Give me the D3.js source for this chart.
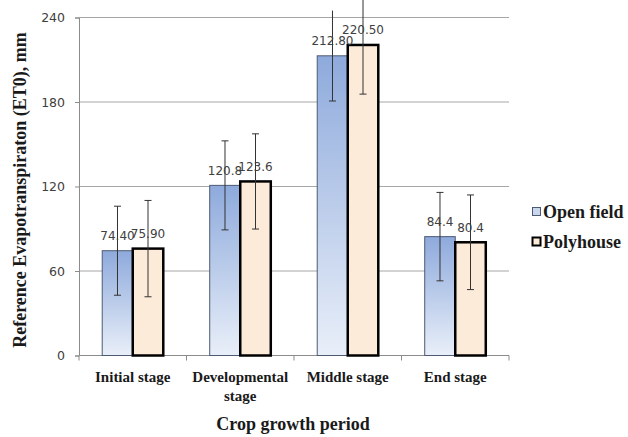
<!DOCTYPE html>
<html>
<head>
<meta charset="utf-8">
<script src="https://cdn.jsdelivr.net/npm/d3@7"></script>
<style>
  body { margin: 0; background: #fff; }
  svg { display: block; }
  .serif { font-family: "Liberation Serif", "DejaVu Serif", "Times New Roman", serif; font-weight: bold; }
</style>
</head>
<body>
<div id="graph"></div>
<script>
var stages = [['Initial stage'], ['Developmental', 'stage'], ['Middle stage'], ['End stage']]
var series = ['Open field', 'Polyhouse']
var openVals = [74.4, 120.8, 212.8, 84.4]
var polyVals = [75.9, 123.6, 220.5, 80.4]
var openLabels = ['74.40', '120.8', '212.80', '84.4']
var polyLabels = ['75.90', '123.6', '220.50', '80.4']
var openErr = [31.6, 31.6, 32.1, 31.4]
var polyErr = [34.2, 33.8, 34.9, 33.6]
var yTicks = [0, 60, 120, 180, 240]

var width = 628, height = 437
var margin = {left: 79, right: 119, top: 17.5, bottom: 81.5}

var svg = d3.select('#graph').append('svg')
  .attr('width', width).attr('height', height)

var defs = svg.append('defs')
var grad = defs.append('linearGradient').attr('id', 'openGrad')
  .attr('x1', 0).attr('y1', 0).attr('x2', 0).attr('y2', 1)
grad.append('stop').attr('offset', '0%').attr('stop-color', '#8eaadc')
grad.append('stop').attr('offset', '100%').attr('stop-color', '#e9eff9')

var x0 = d3.scaleBand()
  .domain(d3.range(stages.length))
  .range([margin.left, width - margin.right])

var x1 = d3.scaleBand()
  .domain(series)
  .range([x0.bandwidth()*0.216, x0.bandwidth()*0.784])

var y = d3.scaleLinear().domain([0, 240]).range([height - margin.bottom, margin.top])

// gridlines
svg.append('g').selectAll('line').data(yTicks.slice(1)).join('line')
  .attr('x1', margin.left).attr('x2', width - margin.right)
  .attr('y1', d => y(d)).attr('y2', d => y(d))
  .attr('stroke', '#a6a6a6').attr('stroke-width', 1)

// y axis
var yAxis = svg.append('g')
  .attr('transform', `translate(${margin.left},0)`)
  .call(d3.axisLeft(y).tickValues(yTicks).tickSize(4).tickPadding(10))
yAxis.select('.domain').attr('stroke', '#8c8c8c')
yAxis.selectAll('.tick line').attr('stroke', '#8c8c8c')
yAxis.selectAll('text')
  .attr('font-family', 'DejaVu Sans').attr('font-size', 12.5).attr('fill', '#404040')

// x axis
var xAxisG = svg.append('g').attr('transform', `translate(0,${y(0)})`)
xAxisG.append('line')
  .attr('x1', margin.left).attr('x2', width - margin.right)
  .attr('stroke', '#8c8c8c')
xAxisG.selectAll('.tk').data(d3.range(stages.length + 1)).join('line')
  .attr('class', 'tk')
  .attr('x1', d => margin.left + d*x0.step()).attr('x2', d => margin.left + d*x0.step())
  .attr('y1', 0).attr('y2', 5)
  .attr('stroke', '#8c8c8c')

xAxisG.selectAll('text.cat').data(stages).join('text')
  .attr('class', 'cat serif')
  .attr('x', (d, i) => x0(i) + x0.bandwidth()/2)
  .attr('y', 26.5)
  .attr('text-anchor', 'middle')
  .attr('font-size', 15).attr('fill', '#1a1a1a')
  .selectAll('tspan').data(d => d).join('tspan')
  .attr('x', function() { return this.parentNode.getAttribute('x') })
  .attr('dy', (d, i) => i ? 19 : 0)
  .text(d => d)

var data = stages.map((s, i) => [
  {key: 'Open field', i, v: openVals[i], e: openErr[i], label: openLabels[i]},
  {key: 'Polyhouse', i, v: polyVals[i], e: polyErr[i], label: polyLabels[i]}
])

var groups = svg.append('g').selectAll('g').data(data).join('g')
  .attr('transform', (d, i) => `translate(${x0(i)},0)`)

groups.selectAll('rect').data(d => d).join('rect')
  .attr('x', d => x1(d.key))
  .attr('width', x1.bandwidth())
  .attr('y', d => y(d.v))
  .attr('height', d => y(0) - y(d.v))
  .attr('fill', d => d.key == 'Open field' ? 'url(#openGrad)' : '#fdebda')
  .attr('stroke', d => d.key == 'Open field' ? '#4d5a73' : '#000')
  .attr('stroke-width', d => d.key == 'Open field' ? 1 : 2.5)

// error bars
groups.selectAll('g.err').data(d => d).join('g')
  .attr('class', 'err')
  .each(function(d) {
    var g = d3.select(this)
    var cx = x1(d.key) + x1.bandwidth()/2
    var top = Math.max(0, y(d.v + d.e))
    g.append('line').attr('x1', cx).attr('x2', cx)
      .attr('y1', top).attr('y2', y(d.v - d.e))
      .attr('stroke', '#333').attr('stroke-width', 1)
    var caps = [d.v - d.e]
    if (d.v + d.e <= 240) caps.push(d.v + d.e)
    caps.forEach(c => {
      g.append('line').attr('x1', cx - 3.5).attr('x2', cx + 3.5)
        .attr('y1', y(c)).attr('y2', y(c))
        .attr('stroke', '#333').attr('stroke-width', 1)
    })
  })

// data labels
groups.selectAll('text.lbl').data(d => d).join('text')
  .attr('class', 'lbl')
  .attr('x', d => x1(d.key) + x1.bandwidth()/2)
  .attr('y', d => y(d.v) - 10.5)
  .attr('text-anchor', 'middle')
  .attr('font-family', 'DejaVu Sans').attr('font-size', 12)
  .attr('fill', '#404040')
  .text(d => d.label)

// legend
var legend = svg.append('g').attr('transform', 'translate(532,207)')
var li = legend.selectAll('g').data(series).join('g')
  .attr('transform', (d, i) => `translate(0,${i*30})`)
li.append('rect')
  .attr('x', 0.5).attr('y', 0.5).attr('width', 8).attr('height', 8)
  .attr('fill', (d, i) => i ? '#fdebda' : '#c9d6ee')
  .attr('stroke', (d, i) => i ? '#000' : '#4d5a73')
  .attr('stroke-width', (d, i) => i ? 2 : 1)
li.append('text')
  .attr('class', 'serif')
  .attr('x', 11).attr('y', 10.5)
  .attr('font-size', 18).attr('fill', '#1a1a1a')
  .text(d => d)

// axis titles
svg.append('text')
  .attr('class', 'serif')
  .attr('transform', `translate(26,${190}) rotate(-90)`)
  .attr('text-anchor', 'middle')
  .attr('font-size', 18).attr('fill', '#1a1a1a')
  .text('Reference Evapotranspiraton (ET0), mm')

svg.append('text')
  .attr('class', 'serif')
  .attr('x', 293).attr('y', 430)
  .attr('text-anchor', 'middle')
  .attr('font-size', 18).attr('fill', '#1a1a1a')
  .text('Crop growth period')
</script>
</body>
</html>
